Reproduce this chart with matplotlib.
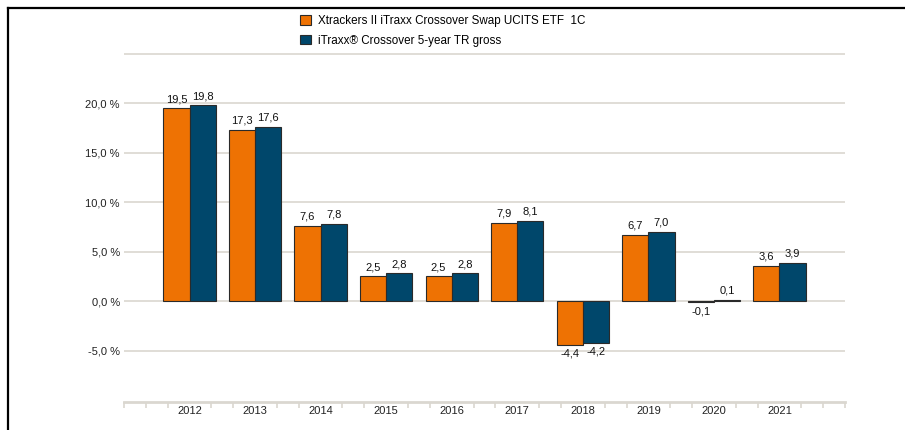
import matplotlib.pyplot as plt
import matplotlib.lines as mlines
import numpy as np

plt.rcParams['font.family'] = ['Liberation Sans', 'DejaVu Sans']

years = ['2012', '2013', '2014', '2015', '2016', '2017', '2018', '2019', '2020', '2021']
etf = [19.5, 17.3, 7.6, 2.5, 2.5, 7.9, -4.4, 6.7, -0.1, 3.6]
index = [19.8, 17.6, 7.8, 2.8, 2.8, 8.1, -4.2, 7.0, 0.1, 3.9]
labels = ['Xtrackers II iTraxx Crossover Swap UCITS ETF  1C',
          'iTraxx® Crossover 5-year TR gross']
yticks = [-5, 0, 5, 10, 15, 20]

ORANGE = '#EE7203'
BLUE = '#00476B'
GRID = '#DAD7D0'


def fmt(v):
    return ('%.1f' % v).replace('.', ',')


def main():
    fig = plt.figure(figsize=(9.05, 4.3), dpi=100)
    ax = fig.add_axes([124 / 905, 1 - 402 / 430, (845 - 124) / 905, (402 - 50) / 430])

    x = np.arange(1, len(years) + 1)
    w = 0.4
    b1 = ax.bar(x - w / 2, etf, w, color=ORANGE, edgecolor='#2a2a2a', linewidth=0.8, zorder=3)
    b2 = ax.bar(x + w / 2, index, w, color=BLUE, edgecolor='#2a2a2a', linewidth=0.8, zorder=3)

    for bars, vals in ((b1, etf), (b2, index)):
        for r, v in zip(bars, vals):
            cx = r.get_x() + r.get_width() / 2
            if v >= 0:
                ax.annotate(fmt(v), (cx, v), xytext=(0, 3), textcoords='offset points',
                            ha='center', va='bottom', fontsize=8, color='#111111')
            else:
                ax.annotate(fmt(v), (cx, v), xytext=(0, -3), textcoords='offset points',
                            ha='center', va='top', fontsize=8, color='#111111')

    ax.set_xlim(0, 11)
    ax.set_ylim(-10.2, 25.4)

    for g in [-5, 0, 5, 10, 15, 20, 25]:
        ax.axhline(g, color=GRID, linewidth=1.2, zorder=1)

    ax.set_yticks(yticks)
    ax.set_yticklabels([fmt(v) + ' %' for v in yticks], fontsize=8, color='#222222')
    ax.tick_params(axis='y', length=0, pad=3)

    ax.set_xticks(x)
    ax.set_xticklabels(years, fontsize=8, color='#222222')
    ax.tick_params(axis='x', length=0, pad=3)
    minor = [k / 3 for k in range(0, 34) if k % 3 != 0 or k in (0, 33)]
    ax.set_xticks(minor, minor=True)
    ax.tick_params(axis='x', which='minor', length=4, width=1.2, color=GRID, direction='out')

    for s in ['top', 'right', 'left']:
        ax.spines[s].set_visible(False)
    ax.spines['bottom'].set_color(GRID)
    ax.spines['bottom'].set_linewidth(2)

    fig.legend([b1, b2], labels, loc='upper left', bbox_to_anchor=(300 / 905, 1 - 15 / 430),
               frameon=False, fontsize=8.4, handlelength=0.9, handleheight=0.9,
               handletextpad=0.6, labelspacing=0.65, borderpad=0, borderaxespad=0)

    # frame lines on top and left
    fig.add_artist(mlines.Line2D([8 / 905, 1], [1 - 8 / 430, 1 - 8 / 430], color='black', linewidth=1.6))
    fig.add_artist(mlines.Line2D([8 / 905, 8 / 905], [0, 1 - 8 / 430], color='black', linewidth=1.6))

    fig.savefig('out.png', dpi=100)
    plt.close()


if __name__ == '__main__':
    main()
